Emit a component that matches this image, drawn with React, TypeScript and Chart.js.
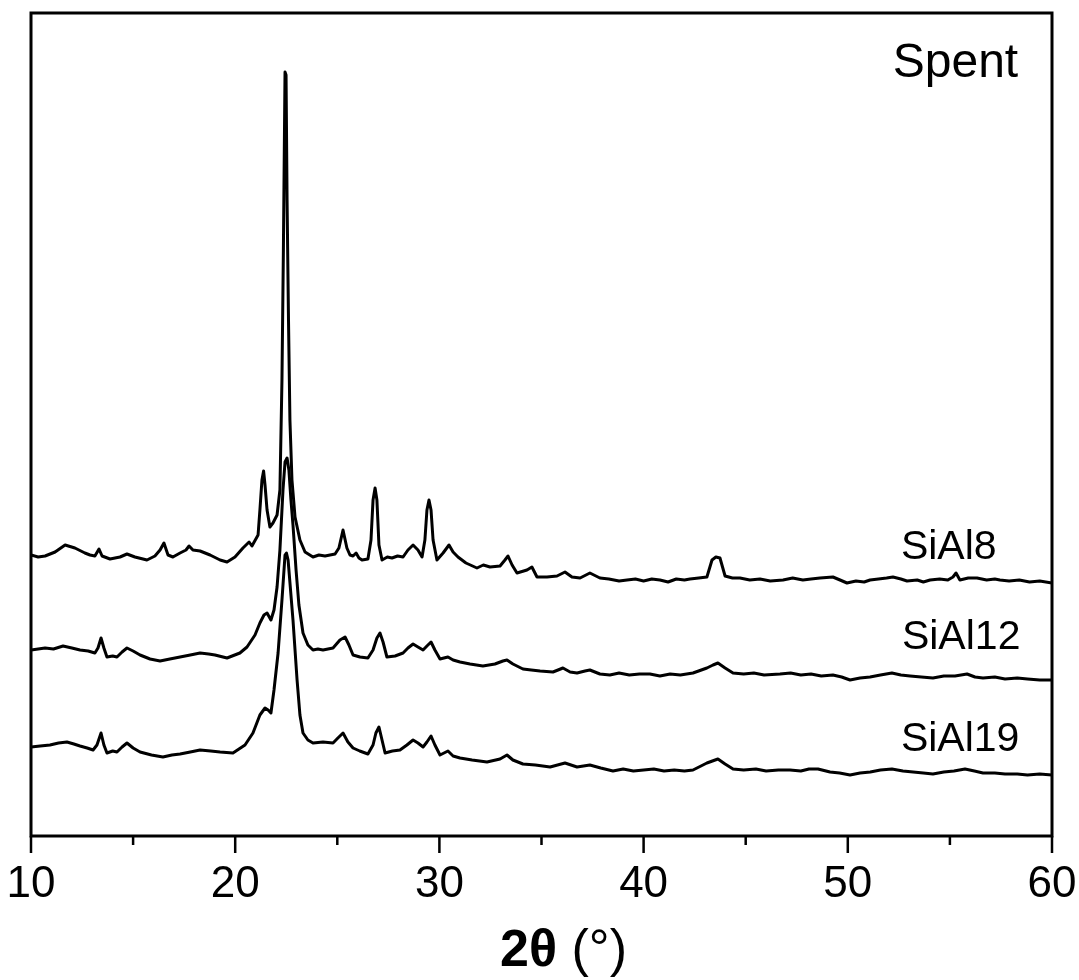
import React, { useEffect, useRef } from "react";
import { Chart, registerables } from "chart.js";

Chart.register(...registerables);

// ---- Data (2θ in degrees, intensity in a.u., patterns already vertically offset) ----
const SIAL8_2THETA = [10.00, 10.35, 10.69, 11.18, 11.67, 12.15, 12.64, 12.89, 13.13, 13.33, 13.48, 13.87, 14.36, 14.70, 15.09, 15.68, 16.07, 16.32, 16.51, 16.71, 16.95, 17.30, 17.59, 17.74, 17.93, 18.28, 18.77, 19.26, 19.60, 19.99, 20.38, 20.68, 20.82, 21.12, 21.21, 21.31, 21.39, 21.46, 21.56, 21.70, 21.85, 22.05, 22.19, 22.29, 22.36, 22.44, 22.49, 22.54, 22.61, 22.68, 22.78, 22.93, 23.17, 23.42, 23.81, 24.10, 24.40, 24.89, 25.08, 25.28, 25.47, 25.62, 25.77, 25.92, 26.06, 26.21, 26.50, 26.65, 26.75, 26.85, 26.94, 27.04, 27.19, 27.45, 27.68, 27.95, 28.22, 28.46, 28.71, 28.95, 29.15, 29.29, 29.39, 29.49, 29.59, 29.69, 29.88, 30.18, 30.47, 30.67, 30.91, 31.30, 31.84, 32.15, 32.48, 32.97, 33.21, 33.36, 33.56, 33.80, 34.29, 34.53, 34.78, 35.27, 35.76, 36.15, 36.49, 36.89, 37.37, 37.86, 38.30, 38.80, 39.19, 39.60, 40.00, 40.40, 40.80, 41.20, 41.60, 42.00, 42.27, 42.70, 43.10, 43.35, 43.54, 43.74, 43.99, 44.35, 44.72, 45.20, 45.70, 46.20, 46.83, 47.30, 47.80, 48.20, 48.64, 49.27, 49.62, 49.96, 50.40, 50.80, 51.09, 51.50, 51.90, 52.21, 52.60, 52.90, 53.40, 53.70, 54.03, 54.50, 54.90, 55.15, 55.30, 55.49, 55.90, 56.33, 56.80, 57.20, 57.45, 57.90, 58.40, 58.90, 59.40, 60.00];
const SIAL8_INT = [281, 279, 280, 284, 291, 288, 283, 281, 280, 287, 280, 277, 279, 282, 279, 276, 280, 286, 293, 281, 279, 283, 286, 290, 286, 285, 281, 276, 274, 279, 288, 294, 290, 301, 326, 356, 365, 351, 326, 309, 313, 321, 346, 456, 586, 764, 761, 636, 516, 416, 356, 319, 296, 284, 279, 281, 280, 282, 288, 306, 288, 281, 280, 283, 278, 276, 277, 296, 336, 348, 336, 291, 276, 279, 278, 280, 279, 286, 291, 286, 279, 296, 326, 336, 326, 296, 276, 283, 291, 284, 279, 273, 268, 271, 269, 270, 276, 280, 271, 263, 266, 269, 259, 259, 260, 264, 259, 258, 263, 258, 257, 255, 256, 257, 255, 257, 256, 254, 257, 256, 257, 258, 259, 276, 279, 278, 260, 258, 258, 256, 257, 255, 256, 258, 256, 257, 258, 259, 256, 253, 255, 254, 256, 257, 258, 259, 257, 255, 256, 254, 256, 257, 256, 259, 263, 256, 258, 258, 256, 257, 256, 255, 256, 254, 255, 253];

const SIAL12_2THETA = [10.00, 10.35, 10.69, 11.10, 11.57, 12.00, 12.40, 12.80, 13.13, 13.28, 13.43, 13.57, 13.72, 14.00, 14.21, 14.46, 14.70, 15.00, 15.34, 15.83, 16.32, 16.80, 17.30, 17.80, 18.28, 18.70, 19.01, 19.60, 20.23, 20.58, 20.97, 21.21, 21.41, 21.56, 21.75, 21.90, 22.05, 22.19, 22.34, 22.44, 22.54, 22.63, 22.73, 22.83, 22.98, 23.12, 23.32, 23.56, 23.81, 24.05, 24.30, 24.79, 25.13, 25.38, 25.57, 25.77, 26.11, 26.50, 26.75, 26.94, 27.09, 27.24, 27.43, 27.83, 28.22, 28.46, 28.71, 28.95, 29.20, 29.39, 29.59, 29.78, 30.03, 30.22, 30.42, 30.67, 31.01, 31.50, 32.13, 32.72, 33.11, 33.31, 33.60, 34.09, 34.50, 34.93, 35.56, 35.81, 36.05, 36.40, 36.74, 37.13, 37.37, 37.86, 38.35, 38.80, 39.30, 39.80, 40.31, 40.80, 41.30, 41.80, 42.42, 43.10, 43.40, 43.64, 43.99, 44.38, 44.90, 45.40, 45.90, 46.68, 47.20, 47.70, 48.20, 48.70, 49.27, 49.70, 50.11, 50.60, 51.09, 51.60, 52.16, 52.60, 53.05, 53.60, 54.17, 54.70, 55.25, 55.84, 56.23, 56.62, 57.20, 57.70, 58.30, 58.80, 59.40, 60.00];
const SIAL12_INT = [186, 187, 188, 187, 190, 188, 186, 185, 183, 188, 198, 188, 179, 180, 179, 184, 188, 185, 181, 177, 175, 177, 179, 181, 183, 182, 181, 178, 183, 189, 201, 213, 221, 223, 216, 226, 249, 286, 346, 374, 378, 366, 336, 311, 266, 231, 203, 191, 186, 187, 186, 188, 196, 199, 191, 181, 179, 178, 186, 198, 203, 194, 179, 180, 183, 188, 192, 189, 186, 190, 194, 186, 177, 178, 179, 176, 174, 172, 170, 172, 175, 176, 172, 167, 166, 165, 164, 166, 168, 164, 163, 165, 166, 162, 161, 163, 161, 162, 162, 160, 162, 161, 163, 168, 171, 173, 168, 163, 162, 163, 161, 162, 163, 161, 162, 160, 161, 159, 156, 158, 159, 161, 163, 161, 160, 159, 158, 160, 160, 162, 159, 158, 159, 157, 158, 157, 156, 156];

const SIAL19_2THETA = [10.00, 10.45, 10.93, 11.35, 11.76, 12.10, 12.40, 12.75, 13.04, 13.23, 13.43, 13.57, 13.72, 14.00, 14.21, 14.46, 14.70, 15.00, 15.34, 15.90, 16.46, 16.90, 17.30, 17.80, 18.28, 18.80, 19.26, 19.89, 20.48, 20.87, 21.21, 21.46, 21.61, 21.75, 21.90, 22.10, 22.29, 22.44, 22.51, 22.59, 22.73, 22.83, 23.03, 23.17, 23.32, 23.56, 23.81, 24.30, 24.79, 25.03, 25.28, 25.52, 25.77, 26.10, 26.50, 26.75, 26.89, 27.04, 27.19, 27.34, 27.70, 28.07, 28.41, 28.71, 28.95, 29.20, 29.39, 29.59, 29.78, 30.03, 30.42, 30.67, 31.01, 31.60, 32.33, 32.97, 33.31, 33.60, 34.09, 34.70, 35.42, 36.15, 36.74, 37.37, 37.90, 38.50, 39.00, 39.50, 40.00, 40.50, 41.00, 41.50, 42.00, 42.42, 43.10, 43.64, 43.99, 44.38, 44.90, 45.50, 46.00, 46.60, 47.17, 47.70, 48.10, 48.54, 49.13, 49.60, 50.11, 50.60, 51.10, 51.60, 52.16, 52.70, 53.20, 53.70, 54.17, 54.70, 55.20, 55.74, 56.20, 56.62, 57.20, 57.70, 58.30, 58.80, 59.40, 60.00];
const SIAL19_INT = [89, 90, 91, 93, 94, 92, 90, 88, 86, 91, 103, 91, 83, 85, 84, 89, 93, 88, 84, 81, 79, 81, 82, 84, 86, 85, 84, 83, 91, 103, 121, 128, 126, 123, 146, 183, 236, 281, 283, 276, 241, 216, 156, 121, 103, 96, 93, 94, 93, 98, 103, 94, 88, 85, 82, 91, 103, 109, 96, 83, 85, 86, 91, 96, 93, 89, 94, 100, 91, 81, 85, 80, 78, 76, 74, 77, 81, 76, 72, 71, 69, 73, 69, 71, 68, 65, 67, 65, 66, 67, 65, 66, 65, 66, 73, 77, 72, 67, 66, 67, 65, 66, 66, 65, 67, 67, 64, 63, 61, 63, 64, 66, 67, 65, 64, 63, 62, 64, 65, 67, 65, 63, 63, 62, 62, 61, 62, 61];

const SERIES_NAMES = ["SiAl8", "SiAl12", "SiAl19"];
// Text annotations: [text, 2θ, intensity, font size]
const LABELS: [string, number, number, number][] = [
  ["Spent", 52.2, 759, 48],
  ["SiAl8", 52.6, 277, 41],
  ["SiAl12", 52.65, 187, 41],
  ["SiAl19", 52.6, 85, 41],
];
const X_MIN = 10;
const X_MAX = 60;
const MAJOR_TICKS = [10, 20, 30, 40, 50, 60];
const MINOR_TICKS = [15, 25, 35, 45, 55];
const Y_MIN = 0;
const Y_MAX = 823;

const FONT = "'Liberation Sans', Arial, Helvetica, sans-serif";

function zip(xs: number[], ys: number[]) {
  return xs.map((x, i) => ({ x, y: ys[i] }));
}

const framePlugin = {
  id: "framePlugin",
  afterDraw(chart: any) {
    const { ctx, chartArea: ca, scales } = chart;
    const xs = scales.x;
    const ys = scales.y;
    ctx.save();
    ctx.strokeStyle = "#000";
    ctx.lineWidth = 3;
    ctx.strokeRect(ca.left, ca.top, ca.right - ca.left, ca.bottom - ca.top);
    ctx.lineWidth = 2.5;
    ctx.beginPath();
    MAJOR_TICKS.forEach((v) => {
      const px = xs.getPixelForValue(v);
      ctx.moveTo(px, ca.bottom);
      ctx.lineTo(px, ca.bottom + 17);
    });
    MINOR_TICKS.forEach((v) => {
      const px = xs.getPixelForValue(v);
      ctx.moveTo(px, ca.bottom);
      ctx.lineTo(px, ca.bottom + 9);
    });
    ctx.stroke();

    // annotations
    ctx.fillStyle = "#000";
    ctx.textBaseline = "alphabetic";
    ctx.textAlign = "left";
    LABELS.forEach(([t, x, y, size]) => {
      ctx.font = `${size}px ${FONT}`;
      ctx.fillText(t, xs.getPixelForValue(x), ys.getPixelForValue(y));
    });

    // axis title: bold "2θ" + regular " (°)"
    const titleY = ca.bottom + 130;
    ctx.font = `bold 52px ${FONT}`;
    const part1 = "2θ";
    const w1 = ctx.measureText(part1).width;
    ctx.font = `52px ${FONT}`;
    const part2 = " (°)";
    const w2 = ctx.measureText(part2).width;
    const cx = (ca.left + ca.right) / 2 + 22;
    const startX = cx - (w1 + w2) / 2;
    ctx.font = `bold 52px ${FONT}`;
    ctx.fillText(part1, startX, titleY);
    ctx.font = `52px ${FONT}`;
    ctx.fillText(part2, startX + w1, titleY);
    ctx.restore();
  },
};

const whiteBg = {
  id: "whiteBg",
  beforeDraw(chart: any) {
    const { ctx, width, height } = chart;
    ctx.save();
    ctx.fillStyle = "#fff";
    ctx.fillRect(0, 0, width, height);
    ctx.restore();
  },
};

export default function App() {
  const ref = useRef<HTMLCanvasElement | null>(null);
  useEffect(() => {
    if (!ref.current) return;
    const lineStyle = {
      borderColor: "#000",
      borderWidth: 3,
      pointRadius: 0,
      tension: 0,
      fill: false,
      borderJoinStyle: "round" as const,
    };
    const chart = new Chart(ref.current, {
      type: "line",
      data: {
        datasets: [
          { label: SERIES_NAMES[0], data: zip(SIAL8_2THETA, SIAL8_INT), ...lineStyle },
          { label: SERIES_NAMES[1], data: zip(SIAL12_2THETA, SIAL12_INT), ...lineStyle },
          { label: SERIES_NAMES[2], data: zip(SIAL19_2THETA, SIAL19_INT), ...lineStyle },
        ],
      },
      options: {
        animation: false,
        responsive: false,
        devicePixelRatio: 1,
        layout: { padding: { left: 31, right: 27, top: 13, bottom: 0 } },
        plugins: {
          legend: { display: false },
          tooltip: { enabled: false },
          title: { display: false },
        },
        scales: {
          x: {
            type: "linear",
            min: X_MIN,
            max: X_MAX,
            border: { display: false },
            grid: { display: false, drawTicks: false },
            ticks: {
              stepSize: 10,
              padding: 22,
              color: "#000",
              font: { family: FONT, size: 44 },
              maxRotation: 0,
              autoSkip: false,
            },
            afterFit: (scale: any) => {
              scale.height = 144;
              scale.paddingLeft = 0;
              scale.paddingRight = 0;
            },
          },
          y: {
            type: "linear",
            min: Y_MIN,
            max: Y_MAX,
            display: false,
          },
        },
      },
      plugins: [whiteBg, framePlugin],
    });
    return () => chart.destroy();
  }, []);
  return (
    <div style={{ position: "absolute", left: 0, top: 0, width: 1079, height: 980, background: "#fff" }}>
      <canvas ref={ref} width={1079} height={980} style={{ width: 1079, height: 980, display: "block" }} />
    </div>
  );
}
